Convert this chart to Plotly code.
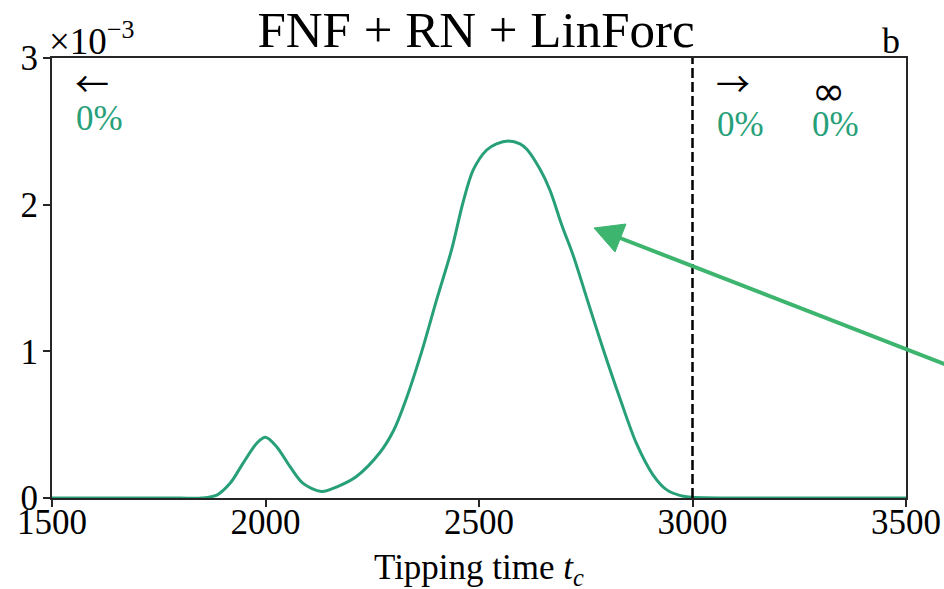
import plotly.graph_objects as go

# Tipping-time density
t_c = [1500, 1700, 1800, 1850, 1886, 1917, 1948, 1980, 2000, 2026, 2057, 2088,
       2131, 2170, 2213, 2268, 2300, 2327, 2366, 2401, 2436, 2463, 2487, 2518,
       2541, 2569, 2596, 2612, 2643, 2666, 2694, 2721, 2756, 2791, 2830, 2869,
       2907, 2939, 2970, 3000, 3100, 3300, 3500]
density = [0, 0, 0, 0, 0.02e-3, 0.10e-3, 0.24e-3, 0.375e-3, 0.414e-3, 0.35e-3,
           0.216e-3, 0.10e-3, 0.045e-3, 0.08e-3, 0.147e-3, 0.31e-3, 0.46e-3,
           0.655e-3, 1.0e-3, 1.354e-3, 1.695e-3, 2.02e-3, 2.24e-3, 2.373e-3,
           2.415e-3, 2.434e-3, 2.415e-3, 2.378e-3, 2.241e-3, 2.10e-3, 1.86e-3,
           1.65e-3, 1.33e-3, 1.013e-3, 0.68e-3, 0.37e-3, 0.16e-3, 0.057e-3,
           0.018e-3, 0.005e-3, 0, 0, 0]

x_ticks = [1500, 2000, 2500, 3000, 3500]
y_ticks = [0, 1e-3, 2e-3, 3e-3]
y_tick_labels = ["0", "1", "2", "3"]
threshold_time = 3000
pct_before, pct_after, pct_never = "0%", "0%", "0%"

GREEN = "#27a07a"
ARROW_GREEN = "#3db56f"
FONT = "Liberation Serif"
AX = "#262626"

L, R, T, B = 52, 38, 58, 91
W, H = 944, 589
PW, PH = W - L - R, H - T - B


def px(xp):
    return (xp - L) / PW


def py(yp):
    return (H - B - yp) / PH


fig = go.Figure()
fig.add_trace(go.Scatter(x=t_c, y=density, mode="lines",
                         line=dict(color=GREEN, width=3, shape="spline", smoothing=0.9),
                         showlegend=False, hoverinfo="skip"))
fig.add_trace(go.Scatter(x=[threshold_time, threshold_time], y=[0, 3e-3], mode="lines",
                         line=dict(color="black", width=2.5, dash="10px,4px"),
                         showlegend=False, hoverinfo="skip"))

ann = []
ann.append(dict(text="×10<sup>−3</sup>", xref="paper", yref="paper", x=px(47), y=py(39),
                xanchor="left", yanchor="middle", showarrow=False,
                font=dict(family=FONT, size=37, color="black")))
ann.append(dict(text="b", xref="paper", yref="paper", x=px(902), y=py(41),
                xanchor="right", yanchor="middle", showarrow=False,
                font=dict(family=FONT, size=36, color="black")))
ann.append(dict(text="Tipping time <i>t<sub>c</sub></i>", xref="paper", yref="paper",
                x=px(479), y=py(546), xanchor="center", yanchor="top", showarrow=False,
                font=dict(family=FONT, size=35, color="black")))
for txt, xp, yp, fam, sz in [("←", 92, 83, "Noto Sans CJK JP", 34),
                             ("→", 733, 83, "Noto Sans CJK JP", 34),
                             ("∞", 828, 91, "DejaVu Sans", 40)]:
    ann.append(dict(text=txt, xref="paper", yref="paper", x=px(xp), y=py(yp),
                    xanchor="center", yanchor="middle", showarrow=False,
                    font=dict(family=fam, size=sz, color="black")))
for txt, xp, yp in [(pct_before, 99, 118), (pct_after, 740, 125), (pct_never, 835, 125)]:
    ann.append(dict(text=txt, xref="paper", yref="paper", x=px(xp), y=py(yp),
                    xanchor="center", yanchor="middle", showarrow=False,
                    font=dict(family=FONT, size=35, color=GREEN)))

# pointer arrow (enters from outside the right edge)
shapes = [
    dict(type="line", xref="paper", yref="paper", x0=px(960), y0=py(370),
         x1=px(620), y1=py(238), line=dict(color=ARROW_GREEN, width=4)),
    dict(type="path", xref="paper", yref="paper",
         path=f"M {px(594)},{py(228)} L {px(626)},{py(224)} L {px(615)},{py(252)} Z",
         fillcolor=ARROW_GREEN, line=dict(color=ARROW_GREEN, width=1)),
]

fig.update_layout(
    width=W, height=H,
    margin=dict(l=L, r=R, t=T, b=B, autoexpand=False),
    paper_bgcolor="white", plot_bgcolor="white",
    font=dict(family=FONT, size=35, color="black"),
    title=dict(text="FNF + RN + LinForc", x=px(476), xref="paper", y=1 - 29 / H,
               yref="container", xanchor="center", yanchor="middle",
               font=dict(family=FONT, size=51, color="black")),
    annotations=ann,
    shapes=shapes,
)
fig.update_xaxes(range=[1500, 3500], tickvals=x_ticks, ticks="outside", ticklen=7,
                 tickwidth=1.5, tickcolor=AX, showline=True, linecolor=AX, linewidth=1.8,
                 mirror=True, showgrid=False, zeroline=False, automargin=False,
                 ticklabelstandoff=-15, tickfont=dict(family=FONT, size=35))
fig.update_yaxes(range=[0, 3e-3], tickvals=y_ticks, ticktext=y_tick_labels,
                 ticks="outside", ticklen=7, tickwidth=1.5, tickcolor=AX,
                 showline=True, linecolor=AX, linewidth=1.8, mirror=True,
                 showgrid=False, zeroline=False, automargin=False,
                 ticklabelstandoff=-2, tickfont=dict(family=FONT, size=35))

fig.write_html("out.html", config={"displayModeBar": False},
               post_script="document.body.style.margin='0px';")
